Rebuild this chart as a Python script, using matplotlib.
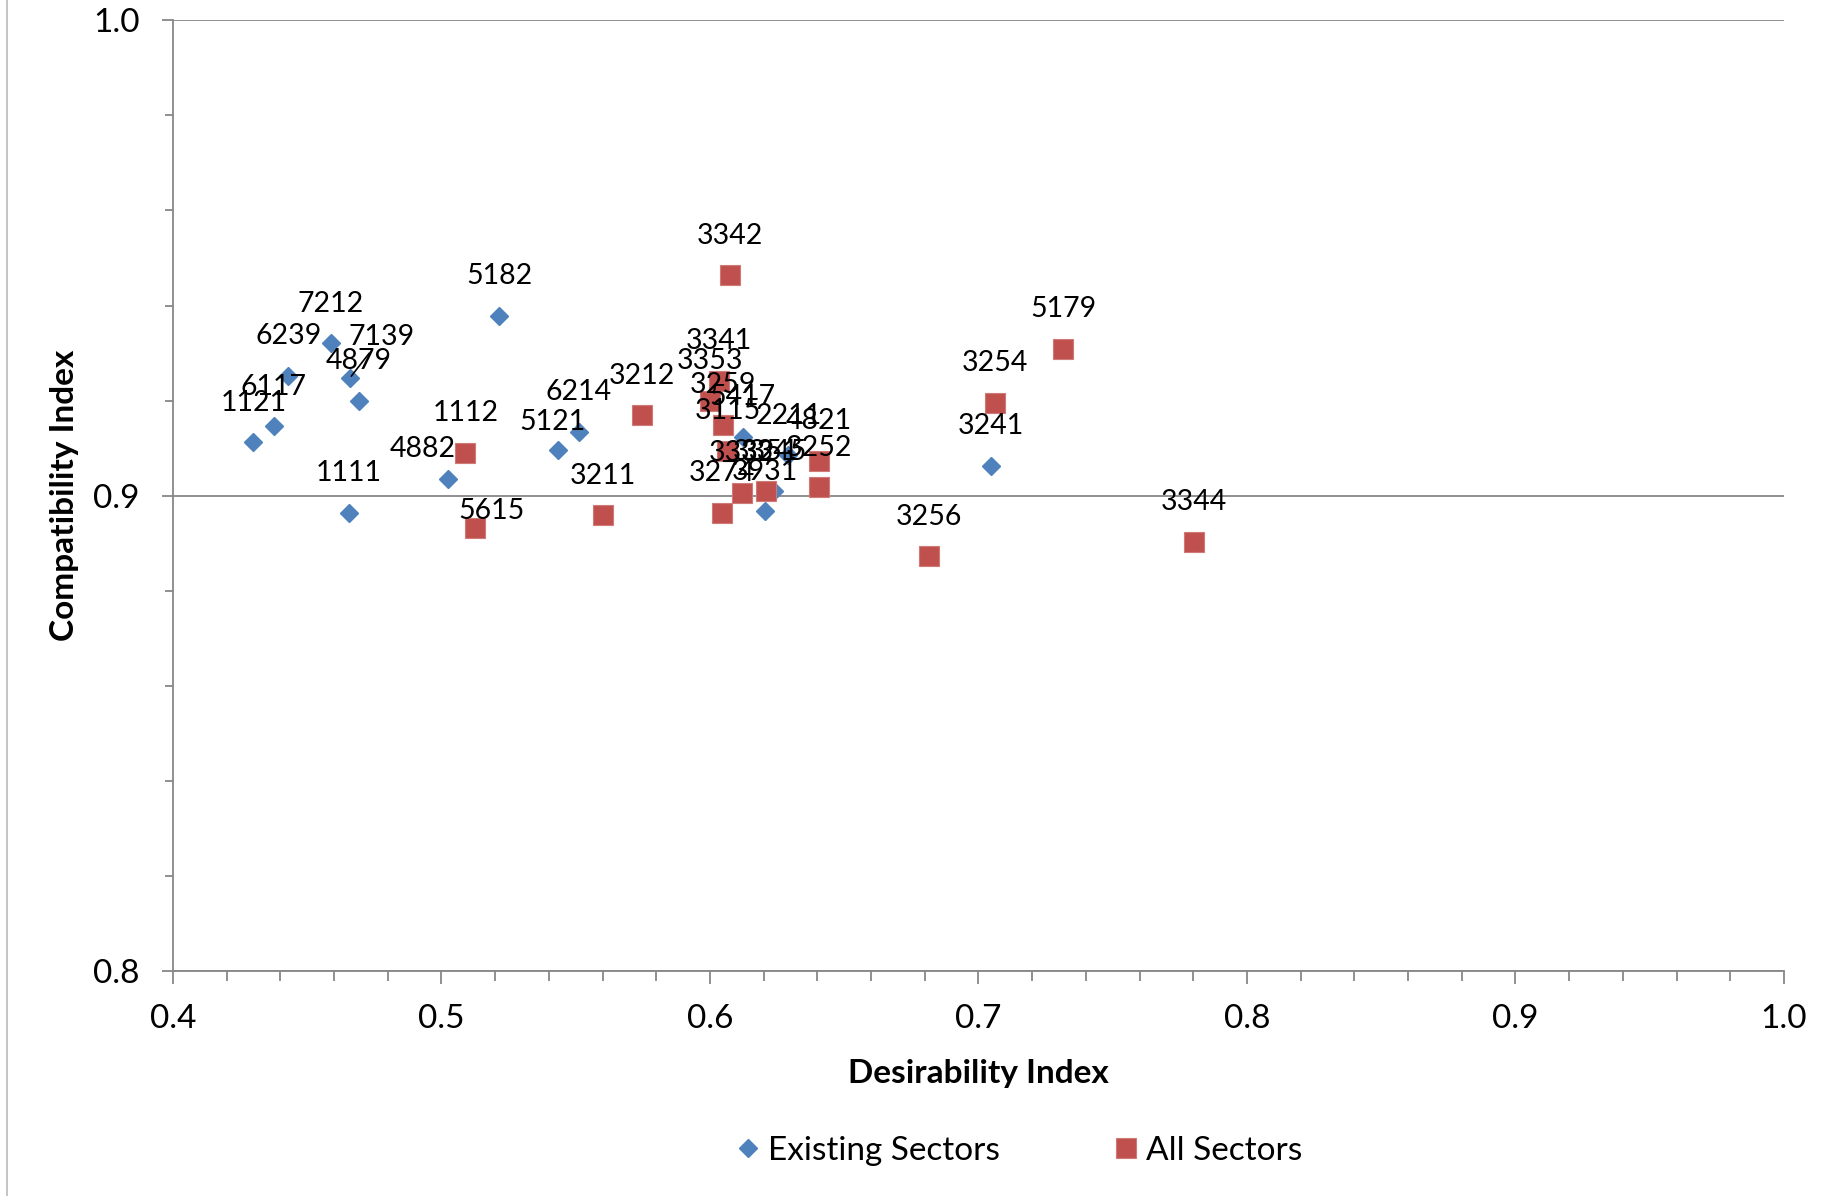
import matplotlib.pyplot as plt
from matplotlib.lines import Line2D
from matplotlib.ticker import MultipleLocator

plt.rcParams['font.family'] = ['Lato', 'DejaVu Sans']

# Existing sectors (blue diamonds)
existing_codes = ["1121", "6117", "6239", "7212", "7139", "4879", "1111", "4882",
                  "5182", "5121", "6214", "5417", "2211", "3345", "3931", "3241"]
existing_desir = [0.430, 0.4375, 0.443, 0.4588, 0.4658, 0.4693, 0.4654, 0.5024,
                  0.5216, 0.5434, 0.5512, 0.6122, 0.6292, 0.6240, 0.6205, 0.7046]
existing_compat = [0.9112, 0.9146, 0.9252, 0.9321, 0.9247, 0.9200, 0.8964, 0.9036,
                   0.9378, 0.9097, 0.9134, 0.9124, 0.9085, 0.9009, 0.8967, 0.9063]

# All sectors (red squares)
all_codes = ["1112", "5615", "3211", "3212", "3342", "3341", "3353", "3259", "3115",
             "3332", "3351", "3274", "4821", "3252", "3256", "3254", "5179", "3344"]
all_desir = [0.5089, 0.5124, 0.5603, 0.5747, 0.6074, 0.6035, 0.6000, 0.6048, 0.6065,
             0.6118, 0.6209, 0.6044, 0.6405, 0.6405, 0.6815, 0.7063, 0.7316, 0.7804]
all_compat = [0.9090, 0.8932, 0.8959, 0.9169, 0.9464, 0.9242, 0.9200, 0.9149, 0.9095,
              0.9006, 0.9009, 0.8964, 0.9073, 0.9018, 0.8873, 0.9196, 0.9309, 0.8903]

blue = "#4F81BD"
red = "#C0504D"
grey = "#878787"

# labels moved away from the default spot above the marker (offset in points)
label_offsets = {"7139": (23, 29.5), "4882": (-18, 21), "5615": (12, 12.5), "5121": (-4, 20)}

fig = plt.figure(figsize=(18.34, 11.96), dpi=100)
ax = fig.add_axes([0.0943, 0.188, 0.8784, 0.795])

ax.plot(existing_desir, existing_compat, linestyle="none", marker="D", markersize=9.5,
        color=blue, markeredgecolor=blue, label="Existing Sectors", zorder=3)
ax.plot(all_desir, all_compat, linestyle="none", marker="s", markersize=14,
        color=red, markeredgecolor="#d07a78", markeredgewidth=0.8, label="All Sectors", zorder=3)

def put_labels(codes, xs, ys):
    for code, x, y in zip(codes, xs, ys):
        off = label_offsets.get(code, (0, 28.5))
        arrow = None
        if code == "7139":
            arrow = dict(arrowstyle="-", color="black", lw=1.2, shrinkA=0, shrinkB=2)
        ax.annotate(code, (x, y), xytext=off, textcoords="offset points",
                    ha="center", va="center", fontsize=20.5, color="black",
                    arrowprops=arrow, zorder=4)

put_labels(existing_codes, existing_desir, existing_compat)
put_labels(all_codes, all_desir, all_compat)

ax.set_xlim(0.4, 1.0)
ax.set_ylim(0.8, 1.0)
ax.xaxis.set_major_locator(MultipleLocator(0.1))
ax.xaxis.set_minor_locator(MultipleLocator(0.02))
ax.yaxis.set_major_locator(MultipleLocator(0.1))
ax.yaxis.set_minor_locator(MultipleLocator(0.02))
ax.xaxis.set_major_formatter(lambda v, p: f"{v:.1f}")
ax.yaxis.set_major_formatter(lambda v, p: f"{v:.1f}")

ax.grid(axis="y", which="major", color=grey, linewidth=1.3, zorder=0)
for side in ["top", "right"]:
    ax.spines[side].set_visible(False)
for side in ["left", "bottom"]:
    ax.spines[side].set_color(grey)
    ax.spines[side].set_linewidth(1.3)

ax.tick_params(axis="x", which="major", direction="out", length=9.5, width=1.3,
               color=grey, labelsize=24, pad=14)
ax.tick_params(axis="x", which="minor", direction="out", length=7.5, width=1.3, color=grey)
ax.tick_params(axis="y", which="major", direction="out", length=8, width=1.3,
               color=grey, labelsize=24, pad=16)
ax.tick_params(axis="y", which="minor", direction="out", length=6, width=1.3, color=grey)

ax.set_xlabel("Desirability Index", fontsize=24, fontweight="bold", labelpad=18)
ax.set_ylabel("Compatibility Index", fontsize=24, fontweight="bold", labelpad=10)

fig.legend(loc="center", bbox_to_anchor=(0.5545, 0.038), ncol=2, frameon=False,
           fontsize=24, handlelength=1.0, handletextpad=0.1, columnspacing=3.3)

# outer chart border on the left edge
fig.add_artist(Line2D([0.0038, 0.0038], [0, 1], transform=fig.transFigure,
                      color="#bfbfbf", linewidth=1.3))

fig.savefig("out.png", dpi=100)
